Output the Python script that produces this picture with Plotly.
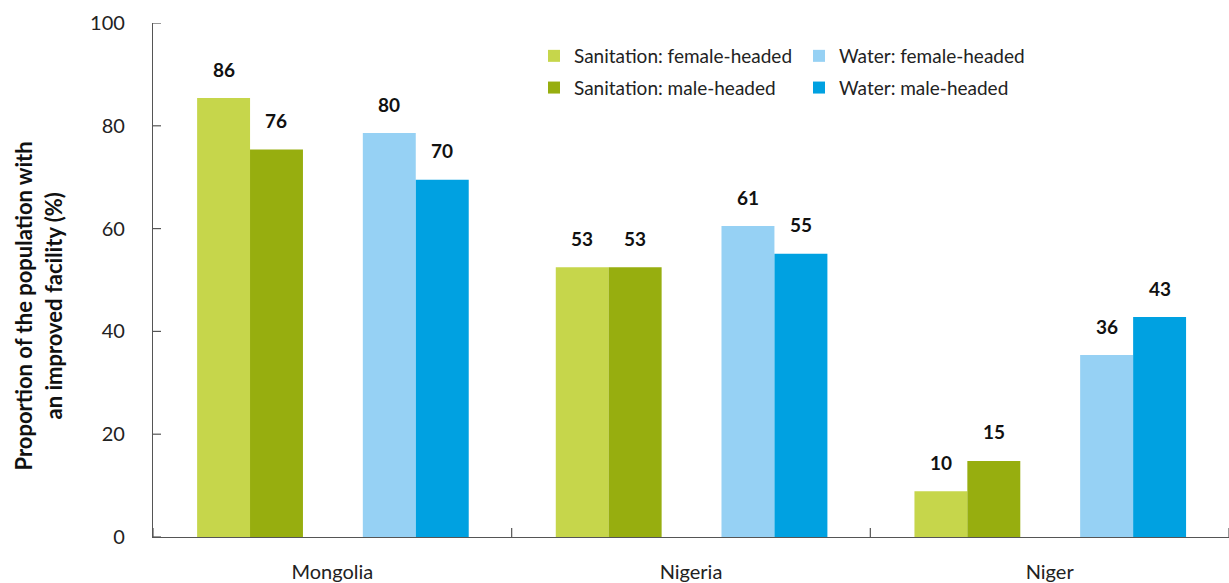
import plotly.graph_objects as go

categories = ["Mongolia", "Nigeria", "Niger"]
series_names = ["Sanitation: female-headed", "Sanitation: male-headed",
                "Water: female-headed", "Water: male-headed"]
san_female = [85.4, 52.5, 8.9]
san_male = [75.4, 52.5, 14.8]
wat_female = [78.6, 60.5, 35.4]
wat_male = [69.5, 55.1, 42.8]
san_female_lbl = ["86", "53", "10"]
san_male_lbl = ["76", "53", "15"]
wat_female_lbl = ["80", "61", "36"]
wat_male_lbl = ["70", "55", "43"]
y_ticks = [0, 20, 40, 60, 80, 100]
title_lines = ["Proportion of the population with", "an improved facility (%)"]

colors = ["#C6D64B", "#97AE0F", "#96D1F4", "#00A1E1"]
offsets = [-0.377, -0.2295, 0.085, 0.2327]
bar_w = 0.1476
legends = ["legend", "legend", "legend2", "legend2"]

FONT = "Lato"
AXC = "#555555"
W, H = 1229, 583
L, T, B = 153, 23, 46
values = [san_female, san_male, wat_female, wat_male]
labels = [san_female_lbl, san_male_lbl, wat_female_lbl, wat_male_lbl]
xpos = list(range(len(categories)))
bounds = [i - 0.5 for i in range(len(categories) + 1)]

fig = go.Figure()
for k in range(4):
    fig.add_trace(go.Bar(
        x=xpos, y=values[k], name=series_names[k],
        marker=dict(color=colors[k], line=dict(width=0)),
        offset=offsets[k], width=bar_w,
        legend=legends[k], legendgroup=series_names[k],
        hoverinfo="skip",
    ))

annotations = []
for k in range(4):
    for i in xpos:
        annotations.append(dict(
            x=i + offsets[k] + bar_w / 2, y=values[k][i], xref="x", yref="y",
            text=labels[k][i], showarrow=False, yanchor="middle", yshift=29,
            font=dict(family=FONT, size=19, color="#111111", weight="bold"),
        ))

plot_w = W - L
plot_h = H - T - B
for px, line in zip([22.5, 52.5], title_lines):
    annotations.append(dict(
        x=(px - L) / plot_w, y=(H - B - 306) / plot_h,
        xref="paper", yref="paper", text=line,
        textangle=-90, showarrow=False, xanchor="center", yanchor="middle",
        font=dict(family=FONT, size=22, color="#111111", weight="bold"),
    ))

shapes = []
for b in bounds:
    shapes.append(dict(type="line", xref="x", yref="y", x0=b, x1=b,
                       ysizemode="pixel", yanchor=0, y0=-11, y1=9,
                       line=dict(color=AXC, width=1.2), layer="above"))
for v in y_ticks:
    shapes.append(dict(type="line", xref="x", yref="y", y0=v, y1=v,
                       xsizemode="pixel", xanchor=-0.5, x0=-12, x1=8,
                       line=dict(color=AXC, width=1.2), layer="above"))

fig.update_layout(
    width=W, height=H,
    margin=dict(l=L, r=0, t=T, b=B, autoexpand=False),
    plot_bgcolor="white", paper_bgcolor="white",
    barmode="overlay",
    font=dict(family=FONT, size=20, color="#333333"),
    showlegend=True,
    xaxis=dict(
        range=[-0.5, 2.5], tickvals=xpos, ticktext=categories, ticks="",
        showline=True, linecolor=AXC, linewidth=1.2,
        showgrid=False, zeroline=False, ticklabelstandoff=17,
        tickfont=dict(family=FONT, size=20, color="#222222"),
    ),
    yaxis=dict(
        range=[0, 100], tickvals=y_ticks, ticks="",
        showline=True, linecolor=AXC, linewidth=1.2,
        showgrid=False, zeroline=False, ticklabelstandoff=23,
        tickfont=dict(family=FONT, size=20, color="#222222"),
    ),
    legend=dict(
        xref="container", yref="container", x=534 / W, y=1 - 37 / H,
        xanchor="left", yanchor="top", orientation="v",
        tracegroupgap=4, bgcolor="rgba(0,0,0,0)",
        font=dict(family=FONT, size=19, color="#222222"),
    ),
    legend2=dict(
        xref="container", yref="container", x=799 / W, y=1 - 37 / H,
        xanchor="left", yanchor="top", orientation="v",
        tracegroupgap=4, bgcolor="rgba(0,0,0,0)",
        font=dict(family=FONT, size=19, color="#222222"),
    ),
    annotations=annotations,
    shapes=shapes,
)

fig.write_html("out.html", config={"displayModeBar": False},
               post_script="document.body.style.margin='0';")
